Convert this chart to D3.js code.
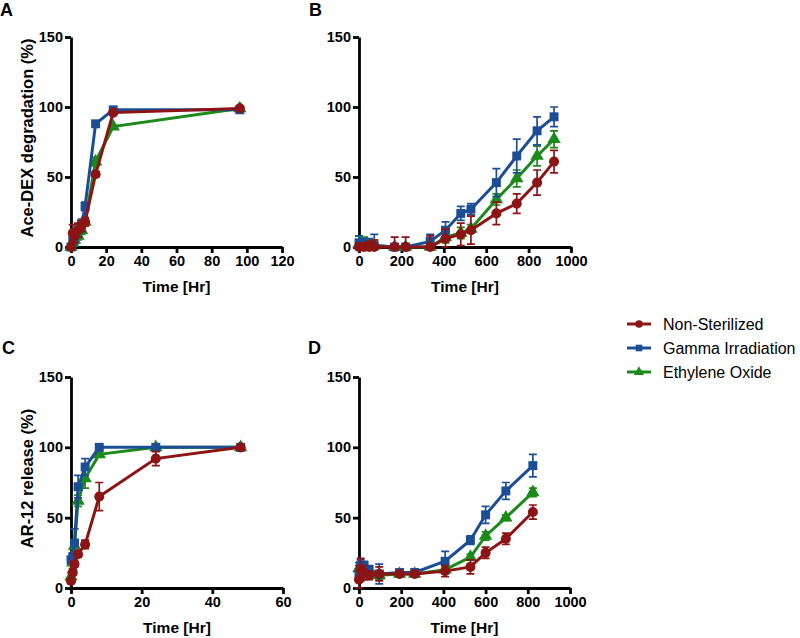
<!DOCTYPE html>
<html>
<head>
<meta charset="utf-8">
<script src="https://cdn.jsdelivr.net/npm/d3@7"></script>
<style>
  body { margin: 0; background: #fff; }
  svg { font-family: "Liberation Sans", Arial, sans-serif; }
  .axis path, .axis line { stroke: #000; stroke-width: 2.8; }
  .axis text { font-size: 14.5px; font-weight: bold; fill: #000; }
</style>
</head>
<body>
<svg id="chart" width="800" height="638"></svg>
<script>
// series names (legend order)
const seriesNames = ["Non-Sterilized", "Gamma Irradiation", "Ethylene Oxide"];
const seriesColors = ["#8c1414", "#1c4e96", "#1b8a1b"];

// panel A - Ace-DEX degradation, short term
const timesA = [0, 1, 2, 4, 6, 8, 14, 24, 96];
const redA = [0, 10, 8, 12, 15, 18, 52, 96, 99];
const redErrA = [2, 6, 5, 5, 4, 3, 2, 2, 1];
const blueA = [0, 5, 8, 12, 16, 29, 88, 98, 98];
const blueErrA = [2, 4, 4, 4, 4, 3, 2, 1, 1];
const greenA = [0, 3, 5, 8, 12, 18, 61, 86, 99];
const greenErrA = [1, 3, 3, 3, 3, 3, 3, 1, 1];
const xTicksA = [0, 20, 40, 60, 80, 100, 120];

// panel B - Ace-DEX degradation, long term
const timesB = [0, 24, 48, 72, 168, 220, 336, 408, 480, 528, 648, 744, 840, 920];
const redB = [0, 0, 0, 0, 0, 0, 0, 6, 9, 12, 24, 31, 46, 61];
const redErrB = [3, 3, 4, 5, 7, 7, 8, 7, 8, 10, 8, 7, 9, 8];
const blueB = [3, 2, 1, 1, 0, 0, 4, 12, 24, 27, 46, 65, 83, 93];
const blueErrB = [5, 4, 5, 8, 2, 2, 5, 6, 5, 4, 10, 12, 10, 7];
const greenB = [2, 2, 1, 1, 0, 0, 0, 7, 10, 13, 34, 49, 65, 77];
const greenErrB = [6, 5, 4, 4, 2, 2, 2, 4, 4, 3, 4, 6, 7, 6];
const xTicksB = [0, 200, 400, 600, 800, 1000];

// panel C - AR-12 release, short term
const timesC = [0, 0.5, 1, 2, 4, 8, 24, 48];
const redC = [5, 11, 17, 24, 31, 65, 92, 100];
const redErrC = [1, 2, 2, 2, 3, 10, 5, 1];
const blueC = [20, 22, 32, 72, 86, 100, 100, 100];
const blueErrC = [2, 3, 10, 8, 6, 1, 1, 1];
const greenC = [8, 18, 30, 62, 78, 95, 100, 100];
const greenErrC = [3, 4, 4, 4, 7, 2, 1, 1];
const xTicksC = [0, 20, 40, 60];

// panel D - AR-12 release, long term
const timesD = [0, 8, 24, 48, 96, 192, 264, 408, 528, 600, 696, 824];
const redD = [6, 13, 11, 9, 10, 10, 10, 12, 15, 25, 35, 54];
const redErrD = [10, 8, 5, 3, 5, 2, 2, 4, 5, 4, 4, 5];
const blueD = [10, 16, 16, 13, 10, 11, 11, 19, 34, 52, 69, 87];
const blueErrD = [4, 4, 3, 3, 7, 2, 2, 7, 3, 6, 6, 8];
const greenD = [14, 14, 12, 11, 9, 10, 10, 13, 22, 37, 50, 68];
const greenErrD = [4, 3, 3, 3, 3, 2, 2, 2, 2, 3, 2, 3];
const xTicksD = [0, 200, 400, 600, 800, 1000];

const yTicks = [0, 50, 100, 150];

const svg = d3.select("#chart");
const symbols = [d3.symbolCircle, d3.symbolSquare, d3.symbolTriangle];
const symbolSizes = [80, 80, 78];

const panels = [
  {letter: "A", lx: 0, ly: 16, x0: 71, x1: 282, y0: 247, y1: 37, xMax: 120, xTicks: xTicksA,
   ytitle: "Ace-DEX degradation (%)", times: timesA,
   vals: [redA, blueA, greenA], errs: [redErrA, blueErrA, greenErrA]},
  {letter: "B", lx: 309, ly: 16, x0: 359, x1: 571, y0: 247, y1: 37, xMax: 1000, xTicks: xTicksB,
   ytitle: null, times: timesB,
   vals: [redB, blueB, greenB], errs: [redErrB, blueErrB, greenErrB]},
  {letter: "C", lx: 2, ly: 354, x0: 71, x1: 283, y0: 588, y1: 377, xMax: 60, xTicks: xTicksC,
   ytitle: "AR-12 release (%)", times: timesC,
   vals: [redC, blueC, greenC], errs: [redErrC, blueErrC, greenErrC]},
  {letter: "D", lx: 308, ly: 354, x0: 359, x1: 570, y0: 588, y1: 377, xMax: 1000, xTicks: xTicksD,
   ytitle: null, times: timesD,
   vals: [redD, blueD, greenD], errs: [redErrD, blueErrD, greenErrD]}
];

panels.forEach(p => {
  const x = d3.scaleLinear().domain([0, p.xMax]).range([p.x0, p.x1]);
  const y = d3.scaleLinear().domain([0, 150]).range([p.y0, p.y1]);

  svg.append("text")
    .attr("x", p.lx).attr("y", p.ly)
    .attr("font-size", 18).attr("font-weight", "bold")
    .text(p.letter);

  svg.append("g").attr("class", "axis")
    .attr("transform", `translate(0,${p.y0})`)
    .call(d3.axisBottom(x).tickValues(p.xTicks).tickFormat(d3.format("d"))
      .tickSize(6).tickPadding(3).tickSizeOuter(0));

  svg.append("g").attr("class", "axis")
    .attr("transform", `translate(${p.x0},0)`)
    .call(d3.axisLeft(y).tickValues(yTicks).tickSize(6).tickPadding(2).tickSizeOuter(0));

  svg.append("text")
    .attr("x", (p.x0 + p.x1) / 2).attr("y", p.y0 + 45)
    .attr("text-anchor", "middle")
    .attr("font-size", 15.5).attr("font-weight", "bold")
    .text("Time [Hr]");

  if (p.ytitle) {
    svg.append("text")
      .attr("transform", `translate(33,${(p.y0 + p.y1) / 2 - 4}) rotate(-90)`)
      .attr("text-anchor", "middle")
      .attr("font-size", 16.5).attr("font-weight", "bold")
      .text(p.ytitle);
  }

  // draw green, blue, then red on top
  [2, 1, 0].forEach(s => {
    const pts = p.times.map((t, i) => ({t: t, v: p.vals[s][i], e: p.errs[s][i]}));
    const g = svg.append("g");
    const col = seriesColors[s];

    g.selectAll(".err").data(pts).join("path")
      .attr("fill", "none").attr("stroke", col).attr("stroke-width", 1.7)
      .attr("d", d => {
        const cx = x(d.t), top = y(d.v + d.e), bot = y(Math.max(0, d.v - d.e));
        return `M${cx},${top}V${bot}M${cx - 4},${top}H${cx + 4}M${cx - 4},${bot}H${cx + 4}`;
      });

    g.append("path").datum(pts)
      .attr("fill", "none").attr("stroke", col).attr("stroke-width", 3)
      .attr("d", d3.line().x(d => x(d.t)).y(d => y(d.v)));

    g.selectAll(".mk").data(pts).join("path")
      .attr("fill", col)
      .attr("transform", d => `translate(${x(d.t)},${y(d.v)})`)
      .attr("d", d3.symbol().type(symbols[s]).size(symbolSizes[s]));
  });
});

// legend
const legend = svg.append("g");
seriesNames.forEach((name, i) => {
  const ly = 324 + i * 24;
  legend.append("line")
    .attr("x1", 627).attr("x2", 651).attr("y1", ly).attr("y2", ly)
    .attr("stroke", seriesColors[i]).attr("stroke-width", 3);
  legend.append("path")
    .attr("transform", `translate(639,${ly})`)
    .attr("fill", seriesColors[i])
    .attr("d", d3.symbol().type(symbols[i]).size(44));
  legend.append("text")
    .attr("x", 663).attr("y", ly + 6)
    .attr("font-size", 16)
    .text(name);
});
</script>
</body>
</html>
